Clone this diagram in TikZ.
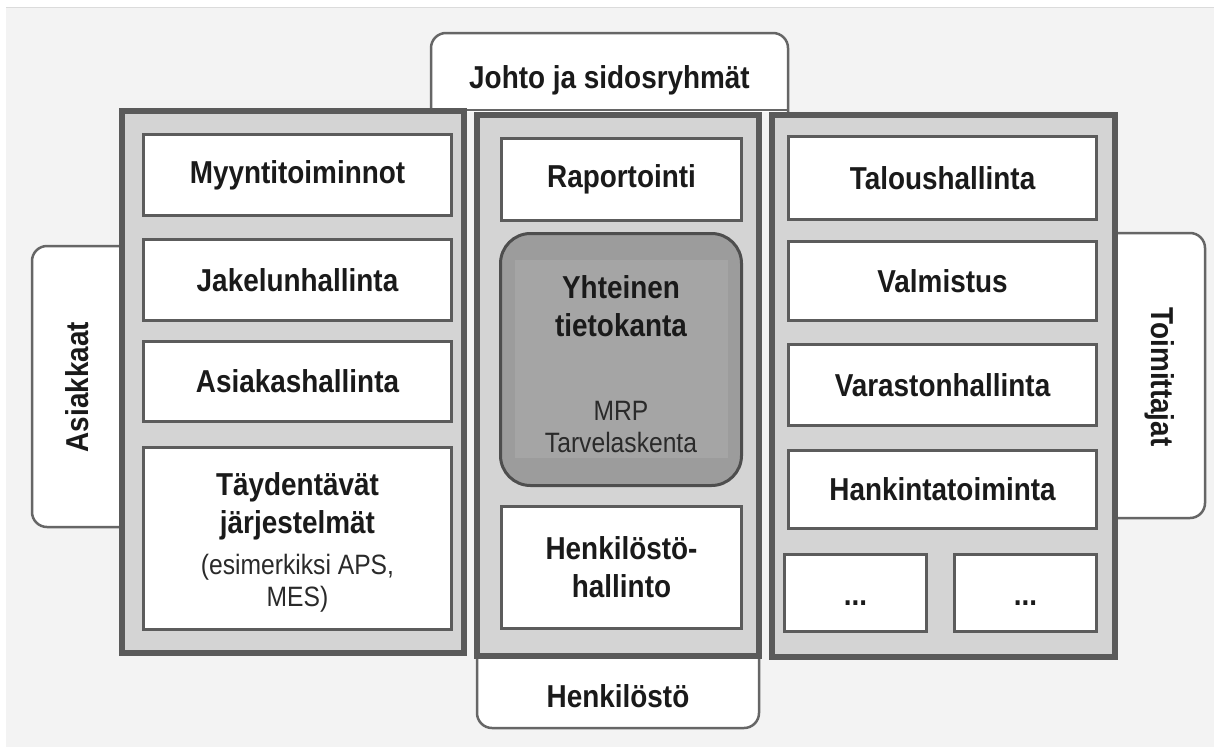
\documentclass[tikz,border=0pt]{standalone}
\usepackage{fontspec}
\setmainfont{Liberation Sans}[FakeStretch=0.88]
\definecolor{bgc}{HTML}{F3F3F3}
\definecolor{panelc}{HTML}{5A5A5A}
\definecolor{panelfill}{HTML}{D4D4D4}
\definecolor{boxc}{HTML}{5C5C5C}
\definecolor{tabc}{HTML}{666666}
\definecolor{dbfill}{HTML}{9C9C9C}
\definecolor{dbinner}{HTML}{A5A5A5}
\definecolor{dbc}{HTML}{4E4E4E}
\definecolor{txt}{HTML}{1A1A1A}
\definecolor{rtxt}{HTML}{2A2A2A}
\newcommand{\mybf}{\fontsize{31.7}{38}\selectfont\bfseries}
\newcommand{\myrg}{\fontsize{28}{32}\selectfont}
\tikzset{
  panel/.style={draw=panelc, line width=6pt, fill=panelfill},
  box/.style={draw=boxc, line width=3pt, fill=white, inner sep=0pt, align=center, font=\mybf, text=txt},
  tabshape/.style={draw=tabc, line width=2.5pt, fill=white, rounded corners=15pt},
  lbl/.style={font=\mybf, text=txt, inner sep=0pt, align=center},
  rlbl/.style={font=\myrg, text=rtxt, inner sep=0pt, align=center},
}
\begin{document}
\begin{tikzpicture}[x=1pt,y=-1pt]
\useasboundingbox (0,0) rectangle (1214,747);
% background
\fill[white] (0,0) rectangle (1214,747);
\fill[bgc] (6,7) rectangle (1214,747);
\draw[line width=1.5pt, black!14] (6,7.5) -- (1214,7.5);

% tabs (behind the columns)
\path[tabshape] (431,112) -- (431,33) -- (788,33) -- (788,112);
\draw[tabc, line width=2.5pt] (431,110) -- (788,110);
\node[lbl] (johto) at (609.5,80) {Johto ja sidosryhmät};

\path[tabshape] (122,246) -- (32,246) -- (32,527) -- (122,527);
\node[lbl, rotate=90] (asiak) at (77,387) {Asiakkaat};

\path[tabshape] (1115,233) -- (1205,233) -- (1205,518) -- (1115,518);
\node[lbl, rotate=-90] (toim) at (1160,377) {Toimittajat};

\path[tabshape] (477,655) -- (477,728) -- (759,728) -- (759,655);
\node[lbl] (henk) at (618,696) {Henkilöstö};

% columns
\path[panel] (122,111) rectangle (464,653);
\path[panel] (477,115) rectangle (759,656);
\path[panel] (772,115) rectangle (1115,657);

% left column
\node[box, minimum width=308pt, minimum height=81pt] (myy) at (297.5,175) {Myyntitoiminnot};
\node[box, minimum width=308pt, minimum height=81pt] (jak) at (297.5,280) {Jakelunhallinta};
\node[box, minimum width=308pt, minimum height=80pt] (asi) at (297.5,381.5) {Asiakashallinta};
\node[box, minimum width=308pt, minimum height=182pt] (tay) at (297.5,538) {};
\node[lbl] (tayA) at (297.5,506) {Täydentävät\\järjestelmät};
\node[rlbl] (tayB) at (297.5,583) {(esimerkiksi APS,\\MES)};

% middle column
\node[box, minimum width=240pt, minimum height=82pt] (rap) at (621.5,179.5) {Raportointi};
\node[box, rounded corners=30pt, fill=dbfill, draw=dbc, minimum width=241pt, minimum height=252pt] (yht) at (621,359.5) {};
\fill[dbinner] (515,260) rectangle (728,458);
\node[lbl] (yhtA) at (621,306.5) {Yhteinen\\tietokanta};
\node[rlbl] (yhtB) at (621,427) {MRP\\Tarvelaskenta};
\node[box, minimum width=240pt, minimum height=122pt] (hen) at (621.5,567.5) {Henkilöstö-\\hallinto};

% right column
\node[box, minimum width=308pt, minimum height=83pt] (tal) at (942.5,178) {Taloushallinta};
\node[box, minimum width=308pt, minimum height=79pt] (val) at (942.5,281) {Valmistus};
\node[box, minimum width=308pt, minimum height=81pt] (var) at (942.5,385) {Varastonhallinta};
\node[box, minimum width=308pt, minimum height=78pt] (han) at (942.5,489.5) {Hankintatoiminta};
\node[box, minimum width=142pt, minimum height=77pt] (d1) at (855.5,593) {};
\node[box, minimum width=142pt, minimum height=77pt] (d2) at (1025.5,593) {};
\node[lbl, anchor=base] (d1t) at (855.5,605) {...};
\node[lbl, anchor=base] (d2t) at (1025.5,605) {...};
\end{tikzpicture}
\end{document}
